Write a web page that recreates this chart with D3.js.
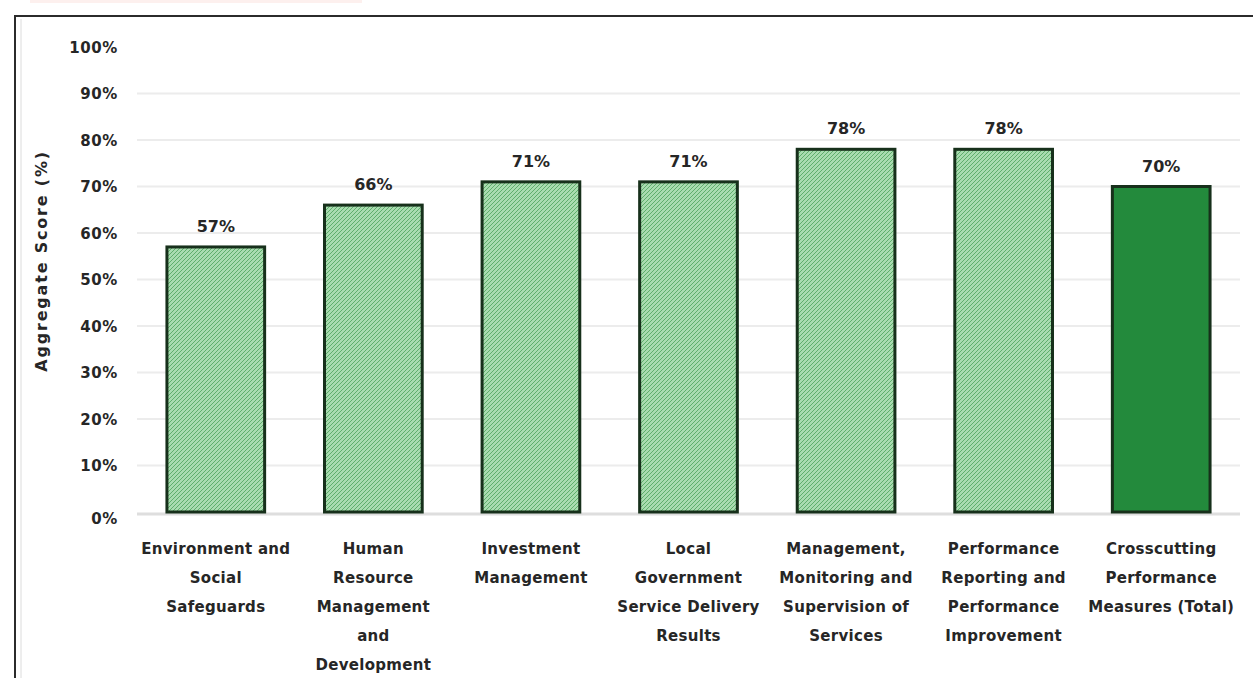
<!DOCTYPE html>
<html>
<head>
<meta charset="utf-8">
<script src="https://cdn.jsdelivr.net/npm/d3@7/dist/d3.min.js"></script>
<style>
  html, body { margin: 0; padding: 0; background: #fff; }
  svg { display: block; }
  text { font-family: "DejaVu Sans", Verdana, sans-serif; fill: #262626; }
</style>
</head>
<body>
<svg id="chart" width="1253" height="678"></svg>
<script>
// Performance areas and their aggregate scores (%)
const categories = [
  ["Environment and", "Social", "Safeguards"],
  ["Human", "Resource", "Management", "and", "Development"],
  ["Investment", "Management"],
  ["Local", "Government", "Service Delivery", "Results"],
  ["Management,", "Monitoring and", "Supervision of", "Services"],
  ["Performance", "Reporting and", "Performance", "Improvement"],
  ["Crosscutting", "Performance", "Measures (Total)"]
];
const scores = [57, 66, 71, 71, 78, 78, 70];
const isTotal = [false, false, false, false, false, false, true];
const yTicks = [0, 10, 20, 30, 40, 50, 60, 70, 80, 90, 100];
const yTitle = "Aggregate Score (%)";

const svg = d3.select("#chart");
const W = 1253, H = 678;
const plot = { left: 137, right: 1240, top: 47, bottom: 512 };

// Outer frame (top and left edges visible)
svg.append("rect").attr("x", 30).attr("y", 0).attr("width", 332).attr("height", 3)
  .attr("fill", "#fdf0ee");
svg.append("line").attr("x1", 21).attr("x2", 21).attr("y1", 19).attr("y2", H)
  .attr("stroke", "#dcdcdc").attr("stroke-width", 1);
svg.append("line").attr("x1", 15).attr("x2", W).attr("y1", 16).attr("y2", 16)
  .attr("stroke", "#2b2b2b").attr("stroke-width", 2);
svg.append("line").attr("x1", 15).attr("x2", 15).attr("y1", 15).attr("y2", H)
  .attr("stroke", "#2b2b2b").attr("stroke-width", 2);

// Hatched fill for the individual areas
const defs = svg.append("defs");
const pat = defs.append("pattern").attr("id", "hatch")
  .attr("patternUnits", "userSpaceOnUse").attr("width", 4).attr("height", 4);
pat.append("rect").attr("width", 4).attr("height", 4).attr("fill", "#a9dcb0");
pat.append("path").attr("d", "M-1,1 L1,-1 M0,4 L4,0 M3,5 L5,3")
  .attr("stroke", "#5fae6c").attr("stroke-width", 1);

const x = d3.scaleBand()
  .domain(d3.range(scores.length))
  .range([plot.left, plot.right])
  .paddingInner(0.38).paddingOuter(0.19);
const y = d3.scaleLinear().domain([0, 100]).range([plot.bottom, plot.top]);

// Gridlines
svg.append("g").selectAll("line").data(yTicks.filter(t => t > 0 && t < 100)).join("line")
  .attr("x1", plot.left).attr("x2", plot.right)
  .attr("y1", d => y(d)).attr("y2", d => y(d))
  .attr("stroke", "#ececec").attr("stroke-width", 2);
svg.append("line").attr("x1", plot.left).attr("x2", plot.right)
  .attr("y1", y(0) + 2).attr("y2", y(0) + 2)
  .attr("stroke", "#dedede").attr("stroke-width", 3);

// Y axis labels
const yAxis = d3.axisLeft(y).tickValues(yTicks).tickFormat(d => d + "%").tickSize(0).tickPadding(0);
const ga = svg.append("g").attr("transform", "translate(118,0)").call(yAxis);
ga.select(".domain").remove();
ga.selectAll("text").attr("font-size", 15).attr("font-weight", "bold")
  .attr("letter-spacing", 0.6)
  .style("font-family", "\"DejaVu Sans\", Verdana, sans-serif").attr("fill", "#262626")
  .attr("dy", "0.35em");
ga.select(".tick:first-of-type text").attr("dy", "0.75em");

// Y axis title
svg.append("text")
  .attr("transform", `translate(47,${(y(29) + y(79)) / 2}) rotate(-90)`)
  .attr("text-anchor", "middle").attr("font-size", 16).attr("font-weight", "bold")
  .attr("letter-spacing", 1.8)
  .text(yTitle);

// Bars
svg.append("g").selectAll("rect").data(scores).join("rect")
  .attr("x", (d, i) => x(i))
  .attr("width", x.bandwidth())
  .attr("y", d => y(d))
  .attr("height", d => y(0) - y(d))
  .attr("fill", (d, i) => isTotal[i] ? "#238a3c" : "url(#hatch)")
  .attr("stroke", "#17301b").attr("stroke-width", 3);

// Value labels
svg.append("g").selectAll("text").data(scores).join("text")
  .attr("x", (d, i) => x(i) + x.bandwidth() / 2)
  .attr("y", d => y(d) - 15)
  .attr("text-anchor", "middle").attr("font-size", 16).attr("font-weight", "bold")
  .attr("fill", "#333")
  .text(d => d + "%");

// Category labels
const cat = svg.append("g").selectAll("text").data(categories).join("text")
  .attr("x", (d, i) => x(i) + x.bandwidth() / 2)
  .attr("y", 554)
  .attr("text-anchor", "middle").attr("font-size", 15).attr("font-weight", "bold")
  .attr("letter-spacing", 0.3);
cat.selectAll("tspan").data(d => d).join("tspan")
  .attr("x", function() { return this.parentNode.getAttribute("x"); })
  .attr("dy", (d, j) => j === 0 ? 0 : 29)
  .text(d => d);
</script>
</body>
</html>
